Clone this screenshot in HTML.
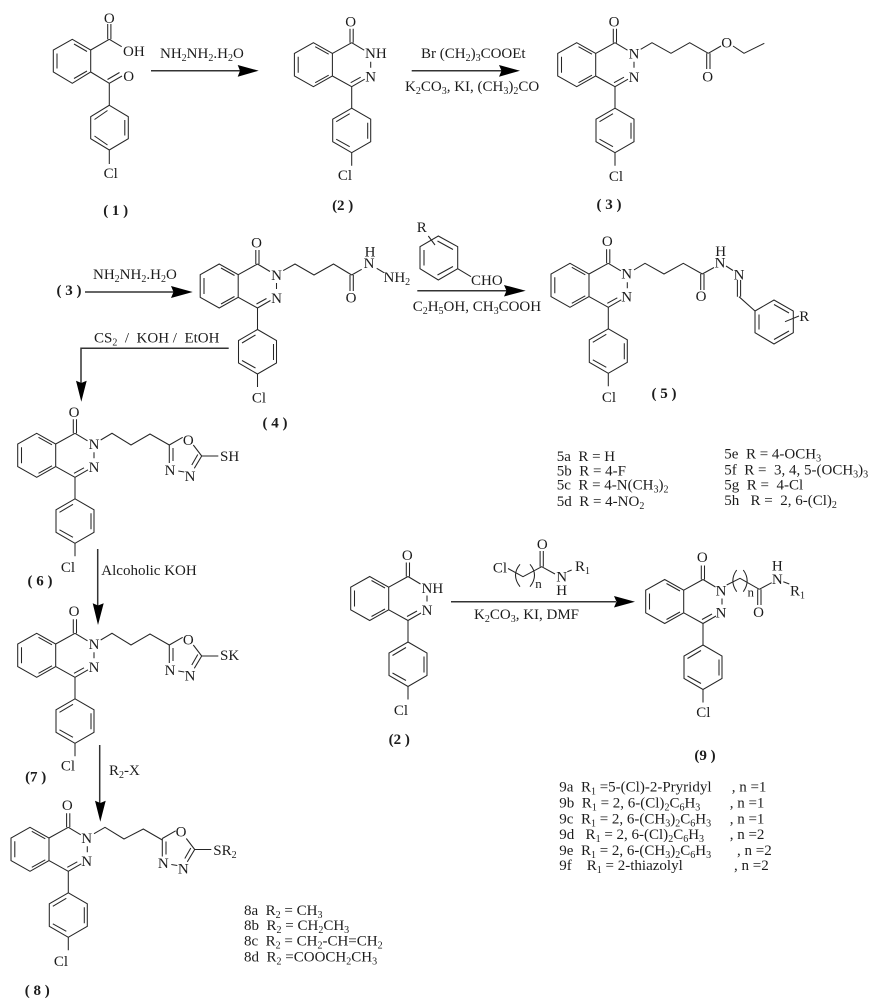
<!DOCTYPE html>
<html><head><meta charset="utf-8"><style>
html,body{margin:0;padding:0;background:#fff}
svg{display:block}
text{font-family:"Liberation Serif",serif;font-size:15px;fill:#1c1c1c}
.m{text-anchor:middle}
.b{font-weight:bold}
path{fill:none;stroke:#262626;stroke-width:1.05}
.a{fill:#000;stroke:none}
.l{stroke:#333;stroke-width:1.5}
tspan.s{font-size:10px}
</style></head><body>
<svg width="883" height="1006" viewBox="0 0 883 1006" xmlns="http://www.w3.org/2000/svg">
<defs>
<g id="core">
<path d="M-38.3 0L-57.3 10.7V33.3L-38.3 44L-19.3 33.3V10.7ZM-53.5 14V30M-36.5 4L-23 11.5M-36.5 40L-23 32.5M0 0L-19.3 10.7M0 44L-19.3 33.3M0 0L12.5 7.5M0 44L13 36.5M-1 40L9 34.5M19 19V25M-1.7 0V-14M1.5 0V-14M0 44V65.5"/>
<path d="M0 65.5L19 76.5V99L0 110L-19 99V76.5ZM-15.5 79L-2 71M16 80V96M-15.5 96.5L-2 104M0 110V123"/>
</g>
<g id="oxa"><path d="M0 0L13.4 -7.7M24 0L32.4 11M32.4 11H49M0 0V18M3.7 3V16M32.4 11L25 23.3M28.5 9.5L22.5 20M9 26L15 27"/></g>
</defs>

<!-- compound 1 -->
<path d="M72.3 39.3L53.3 50V72L72.3 83.3L90.7 72V50ZM57 53.5V68.5M74 44L87 51.5M74 78.5L87 71M90.7 50L109.3 39.3M90.7 72L109.3 83.3M107.7 39.3V24M110.9 39.3V24M109.3 39.3L121.7 46.7M109.3 83.3L122 76M107.5 79.5L119.5 72.5M109.3 83.3V105.3M109.3 105.3L128.3 116.7V138.7L109.3 150L90.7 138.7V116.7ZM94.5 119.5L107.5 110.5M124.8 120V135.5M94.5 136L107.5 145M109.3 150V164"/>
<text class="m" x="109.3" y="23">O</text>
<text x="123" y="56">OH</text>
<text class="m" x="128.7" y="81">O</text>
<text class="m" x="110.7" y="178">Cl</text>
<text class="m b" x="115.7" y="215">( 1 )</text>
<path class="l" d="M151 70.7H240"/><path class="a" d="M237.7 65L258.7 70.7L237.7 76.7L240 70.7Z"/>
<text x="160" y="58">NH<tspan class="s" dy="3">2</tspan><tspan dy="-3">NH</tspan><tspan class="s" dy="3">2</tspan><tspan dy="-3">.H</tspan><tspan class="s" dy="3">2</tspan><tspan dy="-3">O</tspan></text>

<!-- compound 2 -->
<use href="#core" x="351.7" y="42.7"/>
<text class="m" x="350.7" y="26.5">O</text>
<text x="365" y="58">NH</text>
<text class="m" x="370.7" y="81.5">N</text>
<text class="m" x="345" y="180">Cl</text>
<text class="m b" x="342.7" y="210">(2 )</text>
<path class="l" d="M411.7 70.7H502"/><path class="a" d="M499 65L520 70.7L499 76.7L501.5 70.7Z"/>
<text x="421" y="58">Br (CH<tspan class="s" dy="3">2</tspan><tspan dy="-3">)</tspan><tspan class="s" dy="3">3</tspan><tspan dy="-3">COOEt</tspan></text>
<text x="405" y="91">K<tspan class="s" dy="3">2</tspan><tspan dy="-3">CO</tspan><tspan class="s" dy="3">3</tspan><tspan dy="-3">, KI, (CH</tspan><tspan class="s" dy="3">3</tspan><tspan dy="-3">)</tspan><tspan class="s" dy="3">2</tspan><tspan dy="-3">CO</tspan></text>

<!-- compound 3 -->
<use href="#core" x="615" y="42.7"/>
<text class="m" x="614" y="26.5">O</text>
<text class="m" x="634" y="58.5">N</text>
<text class="m" x="634" y="82">N</text>
<text class="m" x="616" y="181">Cl</text>
<path d="M640.7 49.3L652 42.7L671 53.3L689.7 42.7L708.3 53.3M706.7 53.3V69M710 53.3V69M708.3 53.3L721 46M733 46L744 53.3L764.3 43.3"/>
<text class="m" x="707.7" y="81.5">O</text>
<text class="m" x="726.7" y="47.5">O</text>
<text class="m b" x="609" y="209">( 3 )</text>

<!-- step 3 to 4 -->
<text class="m b" x="69" y="295">( 3 )</text>
<path class="l" d="M85 292H175"/><path class="a" d="M171 286L192.7 292L171 298L173.5 292Z"/>
<text x="93" y="279">NH<tspan class="s" dy="3">2</tspan><tspan dy="-3">NH</tspan><tspan class="s" dy="3">2</tspan><tspan dy="-3">.H</tspan><tspan class="s" dy="3">2</tspan><tspan dy="-3">O</tspan></text>

<!-- compound 4 -->
<use href="#core" x="257.5" y="264"/>
<text class="m" x="256.5" y="247.5">O</text>
<text class="m" x="276.5" y="280">N</text>
<text class="m" x="276.5" y="303">N</text>
<text class="m" x="259" y="402.5">Cl</text>
<path d="M283.2 270.6L295 264L314 275L333.5 264L351.7 275M350 275V291M353.3 275V291M351.7 275L361.7 269.3M376.7 268.3L384 272.7"/>
<text class="m" x="351" y="302.5">O</text>
<text class="m" x="369" y="268">N</text>
<text class="m" x="370" y="256.5">H</text>
<text x="383.5" y="282">NH<tspan class="s" dy="3">2</tspan></text>
<text class="m b" x="275" y="427.5">( 4 )</text>

<!-- CS2 arrow -->
<text x="94" y="342.7">CS<tspan class="s" dy="3">2</tspan><tspan dy="-3"> &#160;/ &#160;KOH / &#160;EtOH</tspan></text>
<path class="l" d="M228.7 348.3H81V384"/><path class="a" d="M76 380.7L81.3 401.7L86.7 380.7L81.3 383Z"/>

<!-- compound 6 -->
<use href="#core" x="75" y="433.3"/>
<text class="m" x="74" y="417">O</text>
<text class="m" x="94" y="449">N</text>
<text class="m" x="94" y="472">N</text>
<text class="m" x="68" y="572">Cl</text>
<path d="M100.7 440L112 433.3L131 445L150 434L169.3 445"/>
<use href="#oxa" x="169.3" y="445"/>
<text class="m" x="188.3" y="445">O</text>
<text class="m" x="170" y="475">N</text>
<text class="m" x="190" y="481">N</text>
<text x="220" y="461">SH</text>
<text class="m b" x="40" y="585.5">( 6 )</text>

<!-- Alcoholic KOH -->
<path class="l" d="M97.7 549V606"/><path class="a" d="M92.7 603.3L98 625L103.7 603.3L98 605.5Z"/>
<text x="101.3" y="575">Alcoholic KOH</text>

<!-- compound 7 -->
<use href="#core" x="75" y="633.3"/>
<text class="m" x="74" y="616">O</text>
<text class="m" x="94" y="649">N</text>
<text class="m" x="94" y="672">N</text>
<text class="m" x="68" y="770.5">Cl</text>
<path d="M100.7 640L112 633.3L131 645L150 634L169.3 645"/>
<use href="#oxa" x="169.3" y="645"/>
<text class="m" x="188.3" y="644.5">O</text>
<text class="m" x="170" y="675">N</text>
<text class="m" x="190" y="680.5">N</text>
<text x="220" y="660">SK</text>
<text class="m b" x="35.7" y="781.5">(7 )</text>

<!-- R2-X -->
<path class="l" d="M99.7 745V803"/><path class="a" d="M95 800.7L100.3 821.7L105.7 800.7L100.3 803Z"/>
<text x="109" y="775">R<tspan class="s" dy="3">2</tspan><tspan dy="-3">-X</tspan></text>

<!-- compound 8 -->
<use href="#core" x="68.3" y="827.3"/>
<text class="m" x="67.3" y="810">O</text>
<text class="m" x="86.7" y="843">N</text>
<text class="m" x="86.7" y="866">N</text>
<text class="m" x="61" y="966">Cl</text>
<path d="M94 833.7L105 827.3L124 839L143.3 829L162.3 840"/>
<use href="#oxa" x="162.3" y="838.5"/>
<text class="m" x="181" y="836.5">O</text>
<text class="m" x="163.3" y="868">N</text>
<text class="m" x="183.3" y="873.5">N</text>
<text x="213.3" y="855">SR<tspan class="s" dy="3">2</tspan></text>
<text class="m b" x="37.3" y="995">( 8 )</text>

<text x="244" y="915">8a &#160;R<tspan class="s" dy="3">2</tspan><tspan dy="-3"> = CH</tspan><tspan class="s" dy="3">3</tspan></text>
<text x="244" y="930">8b &#160;R<tspan class="s" dy="3">2</tspan><tspan dy="-3"> = CH</tspan><tspan class="s" dy="3">2</tspan><tspan dy="-3">CH</tspan><tspan class="s" dy="3">3</tspan></text>
<text x="244" y="945.5">8c &#160;R<tspan class="s" dy="3">2</tspan><tspan dy="-3"> = CH</tspan><tspan class="s" dy="3">2</tspan><tspan dy="-3">-CH=CH</tspan><tspan class="s" dy="3">2</tspan></text>
<text x="244" y="961.5">8d &#160;R<tspan class="s" dy="3">2</tspan><tspan dy="-3"> =COOCH</tspan><tspan class="s" dy="3">2</tspan><tspan dy="-3">CH</tspan><tspan class="s" dy="3">3</tspan></text>

<!-- reagent benzaldehyde + arrow -->
<path d="M438.3 236L457.7 246.7V268.7L438.3 280L420 268.7V246.7ZM424 250V265.5M437.5 241L453 249.5M437.5 275L453 266.5M457.7 268.7L471 276.7M428.3 236L435 245"/>
<text class="m" x="421.7" y="232">R</text>
<text x="471" y="285">CHO</text>
<path class="l" d="M417.3 290.7H507"/><path class="a" d="M504 285L525.7 290.7L504 296.5L506.5 290.7Z"/>
<text x="412.7" y="311">C<tspan class="s" dy="3">2</tspan><tspan dy="-3">H</tspan><tspan class="s" dy="3">5</tspan><tspan dy="-3">OH, CH</tspan><tspan class="s" dy="3">3</tspan><tspan dy="-3">COOH</tspan></text>

<!-- compound 5 -->
<use href="#core" x="608.3" y="263.3"/>
<text class="m" x="607.3" y="246">O</text>
<text class="m" x="626.7" y="278.5">N</text>
<text class="m" x="626.7" y="301.5">N</text>
<text class="m" x="609" y="402">Cl</text>
<path d="M634 269.9L645 263.3L664 274L683.3 263.3L702.3 274M700.7 274V290M704 274V290M702.3 274L714 267.5M726 266L733 270.5M737.4 280V296.7M740.6 280V296.7M739 296.7L755 311M755 311L774 300L793.3 311V332.7L774 344L755 332.7ZM759 314.5V329.5M774 304.5L789 313M774 339.5L789 331M785 321.7L799 316"/>
<text class="m" x="701" y="301">O</text>
<text class="m" x="720" y="267.5">N</text>
<text class="m" x="720.7" y="256">H</text>
<text class="m" x="739" y="279.5">N</text>
<text class="m" x="804.3" y="321">R</text>
<text class="m b" x="664" y="398">( 5 )</text>

<text x="556.7" y="461">5a &#160;R = H</text>
<text x="556.7" y="475.5">5b &#160;R = 4-F</text>
<text x="556.7" y="489.5">5c &#160;R = 4-N(CH<tspan class="s" dy="3">3</tspan><tspan dy="-3">)</tspan><tspan class="s" dy="3">2</tspan></text>
<text x="556.7" y="506">5d &#160;R = 4-NO<tspan class="s" dy="3">2</tspan></text>
<text x="724.3" y="458.5">5e &#160;R = 4-OCH<tspan class="s" dy="3">3</tspan></text>
<text x="724.3" y="474.5">5f &#160;R = &#160;3, 4, 5-(OCH<tspan class="s" dy="3">3</tspan><tspan dy="-3">)</tspan><tspan class="s" dy="3">3</tspan></text>
<text x="724.3" y="489.5">5g &#160;R = &#160;4-Cl</text>
<text x="724.3" y="505">5h &#160; R = &#160;2, 6-(Cl)<tspan class="s" dy="3">2</tspan></text>

<!-- compound 2 lower -->
<use href="#core" x="408" y="576.5"/>
<text class="m" x="407.3" y="560">O</text>
<text x="421.5" y="593">NH</text>
<text class="m" x="427" y="615">N</text>
<text class="m" x="401" y="715">Cl</text>
<text class="m b" x="399.3" y="744">(2 )</text>

<!-- arrow to 9 -->
<path class="l" d="M451 601.7H616"/><path class="a" d="M614 596L635 601.7L614 607.5L616.5 601.7Z"/>
<text x="474" y="619">K<tspan class="s" dy="3">2</tspan><tspan dy="-3">CO</tspan><tspan class="s" dy="3">3</tspan><tspan dy="-3">, KI, DMF</tspan></text>
<text class="m" x="500" y="572.5">Cl</text>
<path d="M508 568.5L523 576.7L541.7 566.7L555 574M540.1 566.7V551M543.3 566.7V551M567.3 571.7L571.7 570M520 564.3Q511 575 520 586.7M530 564.3Q539 575 530 586.7"/>
<text class="m" x="542.3" y="549">O</text>
<text class="m" x="561.7" y="581.5">N</text>
<text class="m" x="561.7" y="595">H</text>
<text x="575" y="571">R<tspan class="s" dy="3">1</tspan></text>
<text class="m" x="538.5" y="588" style="font-size:13px">n</text>

<!-- compound 9 -->
<use href="#core" x="703" y="579.5"/>
<text class="m" x="702.3" y="562">O</text>
<text class="m" x="721" y="595.5">N</text>
<text class="m" x="721" y="617.5">N</text>
<text class="m" x="703.3" y="717">Cl</text>
<path d="M726.7 585L740 578.3L759.3 589.3M757.7 589.3V605M761 589.3V605M759.3 589.3L771.7 582.7M783.3 581.7L789.3 584M736.7 570Q729 580.7 736.7 591.7M743.3 570Q751 580.7 743.3 591.7"/>
<text class="m" x="758.5" y="617">O</text>
<text class="m" x="777.3" y="584">N</text>
<text class="m" x="777.3" y="570.5">H</text>
<text x="790" y="595.5">R<tspan class="s" dy="3">1</tspan></text>
<text class="m" x="750.7" y="596.5" style="font-size:13px">n</text>
<text class="m b" x="705" y="760">(9 )</text>

<text x="559.3" y="791.5">9a &#160;R<tspan class="s" dy="3">1</tspan><tspan dy="-3"> =5-(Cl)-2-Pryridyl</tspan></text><text x="731.7" y="791.5">, n =1</text>
<text x="559.3" y="807.5">9b &#160;R<tspan class="s" dy="3">1</tspan><tspan dy="-3"> = 2, 6-(Cl)</tspan><tspan class="s" dy="3">2</tspan><tspan dy="-3">C</tspan><tspan class="s" dy="3">6</tspan><tspan dy="-3">H</tspan><tspan class="s" dy="3">3</tspan></text><text x="729.7" y="807.5">, n =1</text>
<text x="559.3" y="823.5">9c &#160;R<tspan class="s" dy="3">1</tspan><tspan dy="-3"> = 2, 6-(CH</tspan><tspan class="s" dy="3">3</tspan><tspan dy="-3">)</tspan><tspan class="s" dy="3">2</tspan><tspan dy="-3">C</tspan><tspan class="s" dy="3">6</tspan><tspan dy="-3">H</tspan><tspan class="s" dy="3">3</tspan></text><text x="729.7" y="823.5">, n =1</text>
<text x="559.3" y="839">9d &#160; R<tspan class="s" dy="3">1</tspan><tspan dy="-3"> = 2, 6-(Cl)</tspan><tspan class="s" dy="3">2</tspan><tspan dy="-3">C</tspan><tspan class="s" dy="3">6</tspan><tspan dy="-3">H</tspan><tspan class="s" dy="3">3</tspan></text><text x="729.7" y="839">, n =2</text>
<text x="559.3" y="855">9e &#160;R<tspan class="s" dy="3">1</tspan><tspan dy="-3"> = 2, 6-(CH</tspan><tspan class="s" dy="3">3</tspan><tspan dy="-3">)</tspan><tspan class="s" dy="3">2</tspan><tspan dy="-3">C</tspan><tspan class="s" dy="3">6</tspan><tspan dy="-3">H</tspan><tspan class="s" dy="3">3</tspan></text><text x="737" y="855">, n =2</text>
<text x="559.3" y="870">9f &#160; &#160;R<tspan class="s" dy="3">1</tspan><tspan dy="-3"> = 2-thiazolyl</tspan></text><text x="734" y="870">, n =2</text>
</svg>
</body></html>
